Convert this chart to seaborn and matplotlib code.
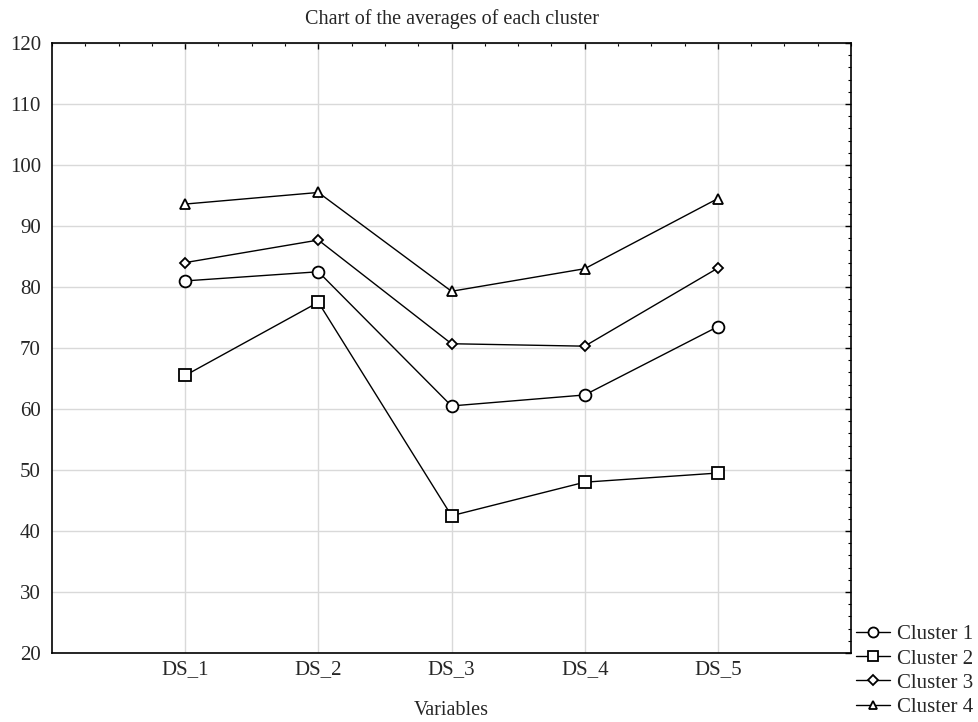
import matplotlib
matplotlib.use("Agg")
import matplotlib.pyplot as plt
import seaborn as sns
import pandas as pd
from matplotlib.ticker import MultipleLocator

variables = ["DS_1", "DS_2", "DS_3", "DS_4", "DS_5"]
cluster1 = [81.0, 82.5, 60.5, 62.3, 73.5]
cluster2 = [65.5, 77.5, 42.5, 48.0, 49.5]
cluster3 = [84.0, 87.7, 70.7, 70.3, 83.1]
cluster4 = [93.6, 95.5, 79.3, 83.0, 94.5]
series_names = ["Cluster 1", "Cluster 2", "Cluster 3", "Cluster 4"]

rows = []
for name, vals in zip(series_names, [cluster1, cluster2, cluster3, cluster4]):
    for i, v in enumerate(vals):
        rows.append({"pos": i + 1, "value": v, "Cluster": name})
df = pd.DataFrame(rows)

sns.set_style("white")
plt.rcParams['font.family'] = ['Liberation Serif', 'DejaVu Serif']

fig = plt.figure(figsize=(9.79, 7.22), dpi=100)
ax = fig.add_axes([0.0531, 0.0956, 0.8162, 0.8448])

markers = {"Cluster 1": "o", "Cluster 2": "s", "Cluster 3": "D", "Cluster 4": "^"}
sizes = {"Cluster 1": 8.5, "Cluster 2": 8, "Cluster 3": 5.5, "Cluster 4": 7.5}
palette = {n: "black" for n in series_names}
sns.lineplot(data=df, x="pos", y="value", hue="Cluster", style="Cluster",
             markers=markers, dashes=False, palette=palette, ax=ax,
             linewidth=1.0, markerfacecolor="white", markeredgecolor="black",
             markeredgewidth=1.3, markersize=8, legend=True)
for line, name in zip(ax.get_lines()[:4], series_names):
    line.set_markersize(sizes[name])

ax.set_xlim(0, 6)
ax.set_ylim(20, 120)
ax.set_xticks([1, 2, 3, 4, 5])
ax.set_xticklabels(variables)
ax.set_yticks(range(20, 121, 10))
ax.xaxis.set_minor_locator(MultipleLocator(0.25))
ax.yaxis.set_minor_locator(MultipleLocator(2))
ax.tick_params(which="both", direction="in", top=True, right=True, labelsize=15, color="black")
ax.tick_params(which="major", length=4, width=1)
ax.tick_params(which="minor", length=2.5, width=0.8)
ax.tick_params(axis="x", pad=5)
ax.tick_params(axis="y", pad=8)
ax.grid(True, which="major", color="#d9d9d9", linewidth=1.0)
ax.set_axisbelow(True)
for s in ax.spines.values():
    s.set_color("black")
    s.set_linewidth(1.2)

ax.set_xlabel("Variables", fontsize=14.5, labelpad=16)
ax.set_ylabel("")
ax.set_title("Chart of the averages of each cluster", fontsize=14.5, pad=14)

handles, labels = ax.get_legend_handles_labels()
leg = ax.legend(handles, labels, loc="lower left", bbox_to_anchor=(0.999, -0.115),
                frameon=False, fontsize=15, handlelength=1.6, handletextpad=0.35,
                labelspacing=0.22, borderaxespad=0.0, borderpad=0.3)
for h, name in zip(leg.legend_handles, series_names):
    h.set_markerfacecolor("white")
    h.set_markeredgecolor("black")
    h.set_color("black")
    h.set_markersize(sizes[name] * 0.85)

fig.savefig("out.png", dpi=100)
